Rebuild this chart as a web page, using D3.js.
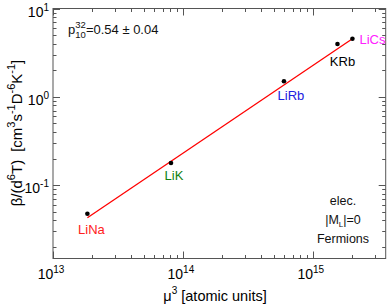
<!DOCTYPE html>
<html>
<meta charset="utf-8">
<style>
body { margin: 0; background: #fff; }
svg { font-family: "Liberation Sans", Arial, sans-serif; }
.frame { fill: none; stroke: #555; stroke-width: 1; }
.tick line { stroke: #555; }
</style>
<body>
<script src="https://d3js.org/d3.v7.min.js"></script>
<script>
// data
var molecules = ["LiNa", "LiK", "LiRb", "KRb", "LiCs"];
var mu3 = [1.84e13, 8.1e13, 6.0e14, 1.55e15, 2.02e15];
var beta = [0.0474, 0.178, 1.5, 3.96, 4.55];
var labelColors = ["#ff2020", "#108010", "#2020e0", "#000000", "#ff20ff"];
var fitX = [1.84e13, 2.02e15];
var fitY = [0.0428, 4.55];
var xMajor = [1e13, 1e14, 1e15];
var yMajor = [1e-1, 1e0, 1e1];

var W = 392, H = 306;
var x0 = 53, x1 = 385.7, y0 = 8.5, y1 = 258.5;

var x = d3.scaleLog().domain([1e13, Math.pow(10, 15.5615)]).range([x0, x1]);
var y = d3.scaleLog().domain([Math.pow(10, -1.83), 10]).range([y1, y0]);

var svg = d3.select("body").append("svg")
    .attr("width", W).attr("height", H);

// minor ticks
function minors(scale) {
  var d = scale.domain(), out = [];
  for (var e = Math.floor(Math.log10(d[0])); e <= Math.ceil(Math.log10(d[1])); e++) {
    for (var k = 1; k < 10; k++) {
      var v = k * Math.pow(10, e);
      if (v >= d[0] * 0.999 && v <= d[1] * 1.001) out.push({v: v, major: k == 1});
    }
  }
  return out;
}

var xt = minors(x), yt = minors(y);
var g = svg.append("g").attr("class", "tick");
xt.forEach(function(t) {
  var len = t.major ? 7 : 3.5, px = Math.round(x(t.v)) + 0.5;
  g.append("line").attr("x1", px).attr("x2", px).attr("y1", y1).attr("y2", y1 - len);
  g.append("line").attr("x1", px).attr("x2", px).attr("y1", y0).attr("y2", y0 + len);
});
yt.forEach(function(t) {
  var len = t.major ? 7 : 3.5, py = Math.round(y(t.v)) + 0.5;
  g.append("line").attr("y1", py).attr("y2", py).attr("x1", x0).attr("x2", x0 + len);
  g.append("line").attr("y1", py).attr("y2", py).attr("x1", x1).attr("x2", x1 - len);
});

svg.append("rect").attr("class", "frame")
    .attr("x", x0).attr("y", y0).attr("width", x1 - x0).attr("height", y1 - y0);

// tick labels
function pow10(sel, e) {
  sel.append("tspan").text("10");
  sel.append("tspan").attr("font-size", 10).attr("dy", -6).text(e);
}
xMajor.forEach(function(v) {
  var t = svg.append("text").attr("x", x(v) - 2).attr("y", y1 + 20)
      .attr("text-anchor", "middle").attr("font-size", 14);
  pow10(t, Math.round(Math.log10(v)));
});
yMajor.forEach(function(v) {
  var t = svg.append("text").attr("x", x0 - 4).attr("y", y(v) + 8)
      .attr("text-anchor", "end").attr("font-size", 14);
  pow10(t, Math.round(Math.log10(v)));
});

// fit line
svg.append("path")
    .datum(d3.zip(fitX, fitY))
    .attr("fill", "none").attr("stroke", "#ff0000").attr("stroke-width", 1.3)
    .attr("d", d3.line().x(function(d) { return x(d[0]); }).y(function(d) { return y(d[1]); }));

// points
svg.selectAll(".dot").data(d3.range(mu3.length)).enter().append("circle")
    .attr("r", 2.3).attr("fill", "#000")
    .attr("cx", function(i) { return x(mu3[i]); })
    .attr("cy", function(i) { return y(beta[i]); });

// molecule labels
var lblOff = [[4, 20], [3, 17], [7, 19], [5, 22], [20, 5]];
svg.selectAll(".lbl").data(d3.range(molecules.length)).enter().append("text")
    .attr("font-size", 13).attr("text-anchor", "middle")
    .attr("fill", function(i) { return labelColors[i]; })
    .attr("x", function(i) { return x(mu3[i]) + lblOff[i][0]; })
    .attr("y", function(i) { return y(beta[i]) + lblOff[i][1]; })
    .text(function(i) { return molecules[i]; });

// annotation top left
var p = svg.append("text").attr("x", 68).attr("y", 34).attr("font-size", 13).attr("fill", "#111");
p.append("tspan").text("p");
p.append("tspan").attr("font-size", 9.5).attr("dy", -6).text("32");
p.append("tspan").attr("font-size", 9.5).attr("dy", 10).attr("dx", -10.5).text("10");
p.append("tspan").attr("dy", -4).text("=0.54 \u00b1 0.04");

// annotation bottom right
var ann = svg.append("g").attr("font-size", 12.5).attr("text-anchor", "middle").attr("fill", "#111");
ann.append("text").attr("x", 343).attr("y", 205).text("elec.");
var ml = ann.append("text").attr("x", 343).attr("y", 224);
ml.append("tspan").text("|M");
ml.append("tspan").attr("font-size", 8).attr("dy", 3).text("L");
ml.append("tspan").attr("dy", -3).text("|=0");
ann.append("text").attr("x", 343).attr("y", 243).text("Fermions");

// axis titles
var xl = svg.append("text").attr("x", 215).attr("y", 301).attr("text-anchor", "middle").attr("font-size", 14.5);
xl.append("tspan").text("\u03bc");
xl.append("tspan").attr("font-size", 10).attr("dy", -7).text("3");
xl.append("tspan").attr("dy", 7).text(" [atomic units]");

var yl = svg.append("text").attr("transform", "translate(22,133) rotate(-90)")
    .attr("text-anchor", "middle").attr("font-size", 15);
yl.append("tspan").text("\u03b2/(d");
yl.append("tspan").attr("font-size", 11).attr("dy", -7).text("6");
yl.append("tspan").attr("dy", 7).text("T)");
yl.append("tspan").attr("dx", 8).text("[cm");
yl.append("tspan").attr("font-size", 11).attr("dy", -7).text("3");
yl.append("tspan").attr("dy", 7).text("s");
yl.append("tspan").attr("font-size", 11).attr("dy", -7).text("-1");
yl.append("tspan").attr("dy", 7).text("D");
yl.append("tspan").attr("font-size", 11).attr("dy", -7).text("-6");
yl.append("tspan").attr("dy", 7).text("K");
yl.append("tspan").attr("font-size", 11).attr("dy", -7).text("-1");
yl.append("tspan").attr("dy", 7).text("]");
</script>
</body>
</html>
